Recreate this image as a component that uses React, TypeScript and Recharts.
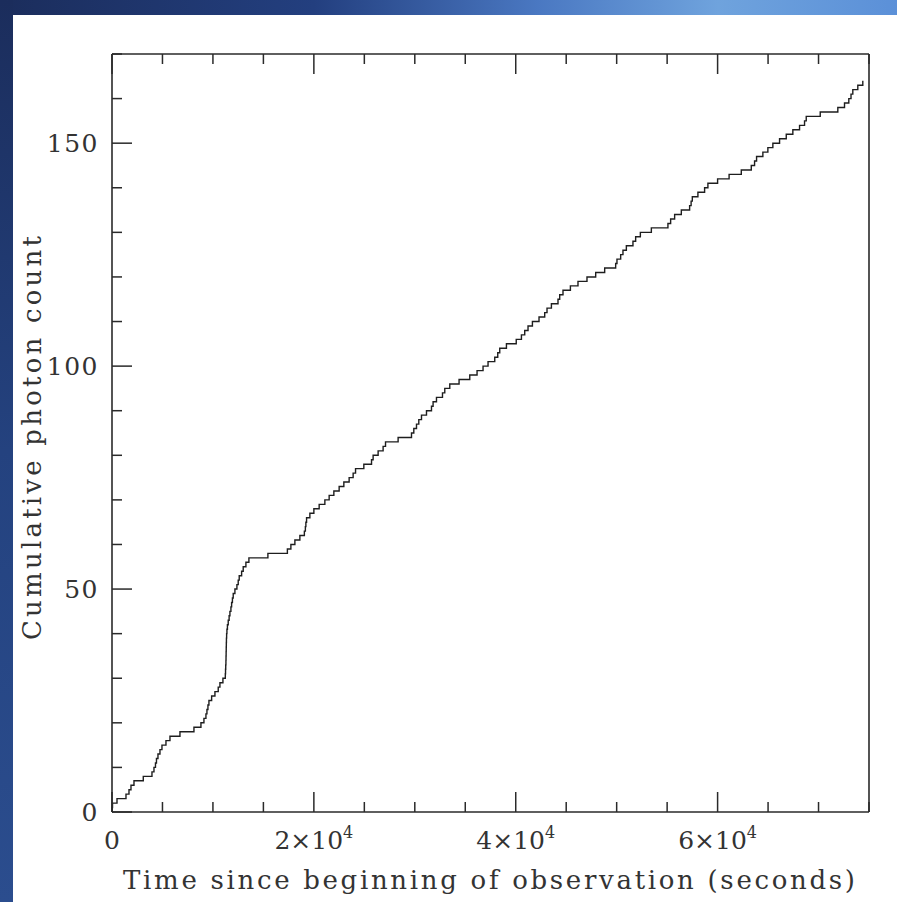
import { LineChart, Line, XAxis, YAxis } from "recharts";

const photonTimes = [
  20, 50, 495, 1386, 1683, 1881, 2178, 3099, 3960, 4158, 4307, 4406, 4554, 4752, 4950, 5346,
  5743, 6733, 8119, 8812, 9109, 9307, 9406, 9505, 9604, 9871, 10198, 10525, 10693, 10990,
  11228, 11248, 11267, 11287, 11297, 11307, 11317, 11327, 11337, 11356, 11386, 11436,
  11515, 11604, 11683, 11782, 11851, 11931, 12010, 12178, 12376, 12505, 12604, 12842, 13000,
  13267, 13564, 15446, 17376, 17723, 18119, 18614, 19059, 19158, 19208, 19277, 19604, 20000,
  20525, 21089, 21515, 21980, 22505, 22970, 23495, 23891, 24129, 24950, 25713, 25871, 26366,
  26861, 27099, 28347, 29673, 29901, 30168, 30396, 30663, 31158, 31653, 31812, 32148, 32743,
  32970, 33465, 34386, 35446, 36168, 36762, 37257, 37921, 38218, 38416, 39079, 40050, 40564,
  40891, 41218, 41653, 42307, 42871, 43099, 43535, 44188, 44356, 44683, 45416, 46168, 47059,
  47921, 48812, 49901, 50030, 50396, 50624, 50960, 51614, 51881, 52347, 53436, 55079, 55347,
  55743, 56406, 57228, 57376, 57495, 58050, 58713, 59040, 60000, 61139, 62347, 63337, 63663,
  63861, 64485, 64980, 65475, 66139, 66802, 67455, 68119, 68614, 68782, 70168, 71911, 72574,
  73000, 73218, 73396, 73891, 74386,
];

const xTicks = [0, 5000, 10000, 15000, 20000, 25000, 30000, 35000, 40000, 45000, 50000, 55000, 60000, 65000, 70000, 75000];
const xMajor = [0, 20000, 40000, 60000];
const xMantissa: Record<number, string> = { 20000: "2", 40000: "4", 60000: "6" };

const yTicks = [0, 10, 20, 30, 40, 50, 60, 70, 80, 90, 100, 110, 120, 130, 140, 150, 160, 170];
const yMajor = [0, 50, 100, 150];

const series = [{ t: 0, n: 0 }, ...photonTimes.map((t, i) => ({ t, n: i + 1 }))];

const ink = "#2a2a2a";
const textInk = "#333";
const font = "'DejaVu Serif', 'Liberation Serif', serif";

function makeTick(side: "bottom" | "top" | "left" | "right") {
  return (props: any) => {
    const { x, y, payload } = props;
    const v = payload.value as number;
    const major = side === "bottom" || side === "top" ? xMajor.includes(v) : yMajor.includes(v);
    const len = major ? 20 : 10;
    let x2 = x;
    let y2 = y;
    if (side === "bottom") y2 = y - len;
    if (side === "top") y2 = y + len;
    if (side === "left") x2 = x + len;
    if (side === "right") x2 = x - len;
    return (
      <g>
        <line x1={x} y1={y} x2={x2} y2={y2} stroke={ink} strokeWidth={1.5} />
        {side === "bottom" && major && (
          <text x={x} y={y + 37} textAnchor="middle" fontSize={25} fontFamily={font} fill={textInk}>
            {v === 0 ? "0" : (
              <>
                {xMantissa[v]}×10
                <tspan dy={-11} fontSize={16}>4</tspan>
              </>
            )}
          </text>
        )}
        {side === "left" && major && (
          <text x={x - 13} y={y + 9} textAnchor="end" fontSize={25} fontFamily={font} fill={textInk} letterSpacing={1.5}>
            {v}
          </text>
        )}
      </g>
    );
  };
}

export default function App() {
  return (
    <div
      style={{
        position: "absolute",
        left: 0,
        top: 0,
        width: 897,
        height: 902,
        overflow: "hidden",
        background: "linear-gradient(90deg, #1b2d5c 0%, #233f7f 35%, #4a78c2 60%, #6fa3dd 80%, #5b90d8 100%)",
      }}
    >
      <div
        style={{
          position: "absolute",
          left: 0,
          top: 0,
          width: 13,
          height: 902,
          background: "linear-gradient(180deg, #1b2d5c 0%, #24427f 50%, #2b4d8e 100%)",
        }}
      />
      <div style={{ position: "absolute", left: 13, top: 15, width: 884, height: 887, background: "#fff" }} />
      <div style={{ position: "absolute", left: 0, top: 0 }}>
        <LineChart width={897} height={902} data={series} margin={{ top: 53, right: 27, bottom: 89, left: 111 }}>
          <XAxis
            xAxisId="b"
            dataKey="t"
            type="number"
            domain={[0, 75000]}
            ticks={xTicks}
            interval={0}
            height={1}
            tickSize={0}
            tickMargin={0}
            axisLine={{ stroke: ink, strokeWidth: 1.6 }}
            tick={makeTick("bottom")}
            label={{
              content: () => (
                <text x={489} y={889} textAnchor="middle" fontSize={26} fontFamily={font} fill={textInk} textLength={732} lengthAdjust="spacing">
                  Time since beginning of observation (seconds)
                </text>
              ),
            }}
          />
          <XAxis
            xAxisId="t"
            orientation="top"
            dataKey="t"
            type="number"
            domain={[0, 75000]}
            ticks={xTicks}
            interval={0}
            height={1}
            tickSize={0}
            tickMargin={0}
            axisLine={{ stroke: ink, strokeWidth: 1.6 }}
            tick={makeTick("top")}
          />
          <YAxis
            yAxisId="l"
            type="number"
            domain={[0, 170]}
            ticks={yTicks}
            interval={0}
            width={1}
            tickSize={0}
            tickMargin={0}
            axisLine={{ stroke: ink, strokeWidth: 1.6 }}
            tick={makeTick("left")}
            label={{
              content: () => (
                <text
                  x={0}
                  y={0}
                  transform="translate(41 438) rotate(-90)"
                  textAnchor="middle"
                  fontSize={26}
                  fontFamily={font}
                  fill={textInk}
                  textLength={404}
                  lengthAdjust="spacing"
                >
                  Cumulative photon count
                </text>
              ),
            }}
          />
          <YAxis
            yAxisId="r"
            orientation="right"
            type="number"
            domain={[0, 170]}
            ticks={yTicks}
            interval={0}
            width={1}
            tickSize={0}
            tickMargin={0}
            axisLine={{ stroke: ink, strokeWidth: 1.6 }}
            tick={makeTick("right")}
          />
          <Line
            xAxisId="b"
            yAxisId="l"
            type="stepAfter"
            dataKey="n"
            stroke="#1e1e1e"
            strokeWidth={1.4}
            dot={false}
            isAnimationActive={false}
          />
        </LineChart>
      </div>
    </div>
  );
}
